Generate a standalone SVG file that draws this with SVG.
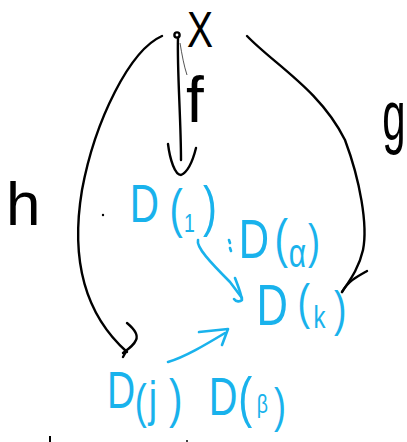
<svg xmlns="http://www.w3.org/2000/svg" width="407" height="442" viewBox="0 0 407 442">
<style>
.k{fill:none;stroke:#000;stroke-width:2.4;stroke-linecap:round;stroke-linejoin:round}
.c{fill:none;stroke:#19b2ec;stroke-width:2.6;stroke-linecap:round;stroke-linejoin:round}
.bt{font-family:"Liberation Sans",Arial,sans-serif;fill:#000}
.ct{font-family:"Liberation Sans",Arial,sans-serif;fill:#19b2ec}
</style>
<rect width="407" height="442" fill="#fff"/>
<g id="X"><text class="bt" transform="scale(0.78 1)" x="239.7" y="47" font-size="50">X</text></g>
<g id="D1"><text class="ct" transform="scale(0.75 1)"><tspan x="173" y="222" font-size="54">D</tspan><tspan x="226" y="226.8" font-size="53">(</tspan><tspan x="245.2" y="232" font-size="26">1</tspan><tspan x="270.7" y="225" font-size="56">)</tspan></text></g>
<g id="Dalpha"><text class="ct" transform="scale(0.75 1)"><tspan x="318.3" y="258" font-size="56">D</tspan><tspan x="365.9" y="256.6" font-size="54">(</tspan><tspan x="385" y="267" font-size="40">α</tspan><tspan x="410.8" y="257.8" font-size="48">)</tspan></text>
<path class="c" d="M229,240 L230,243 M230,248 L231,251" stroke-width="1.6"/></g>
<g id="Dk"><text class="ct" transform="scale(0.75 1)"><tspan x="342.1" y="325" font-size="58">D</tspan><tspan x="396.8" y="319.4" font-size="50">(</tspan><tspan x="418.1" y="328" font-size="32">k</tspan><tspan x="445.5" y="326" font-size="50">)</tspan></text></g>
<g id="Dj"><text class="ct" transform="scale(0.75 1)"><tspan x="142.6" y="408" font-size="52">D</tspan><tspan x="179.7" y="417.8" font-size="48">(</tspan><tspan x="198.3" y="416.5" font-size="50">j</tspan><tspan x="225.4" y="416.6" font-size="54">)</tspan></text></g>
<g id="Dbeta"><text class="ct" transform="scale(0.75 1)"><tspan x="278.5" y="415" font-size="53">D</tspan><tspan x="317.8" y="416" font-size="56">(</tspan><tspan x="342.2" y="413" font-size="26">β</tspan><tspan x="365.5" y="421.8" font-size="48">)</tspan></text></g>
<g id="connectors">
<g id="f">
<circle cx="177" cy="35" r="2.6" class="k" stroke-width="2"/>
<path class="k" d="M178,38 C177,70 181,120 181,160"/>
<path d="M180,43 C182,55 184,66 187,75" fill="none" stroke="#555" stroke-width="1"/>
<path class="k" d="M168,144 C170,160 175,175 181,175 C188,172 193,160 196,148"/>
<text class="bt" x="186" y="122" font-size="64">f</text>
</g>
<g id="h">
<path class="k" d="M162,36 C130,50 95,120 82,190 C72,250 80,310 127,352"/>
<path class="k" d="M127,323 C133,328 139,334 136,340 C134,345 130,348 123,353 M127,350 L123,357"/>
<text class="bt" x="6" y="225" font-size="62">h</text>
</g>
<g id="g">
<path class="k" d="M247,36 C275,65 320,90 345,140 C360,180 368,225 363,250 C359,268 350,280 342,292"/>
<path class="k" d="M367,271 C358,276 348,281 342,292"/>
<text class="bt" transform="scale(0.6 1)" x="637.2" y="140" font-size="70">g</text>
</g>
<path class="c" d="M198,240 C196,247 210,262 230,282 L242,298"/>
<path class="c" d="M235,278 C238,286 241,293 242,300 C240,302 236,302 234,299"/>
<path class="c" d="M168,362 C185,357 205,345 225,333"/>
<path class="c" d="M199,332 L228,329 L222,345"/>
</g>
<circle cx="103" cy="215" r="1.2" fill="#000"/>
<path d="M50,436 L50,442" stroke="#000" stroke-width="2"/>
<circle cx="187" cy="441" r="1" fill="#000"/>
</svg>
